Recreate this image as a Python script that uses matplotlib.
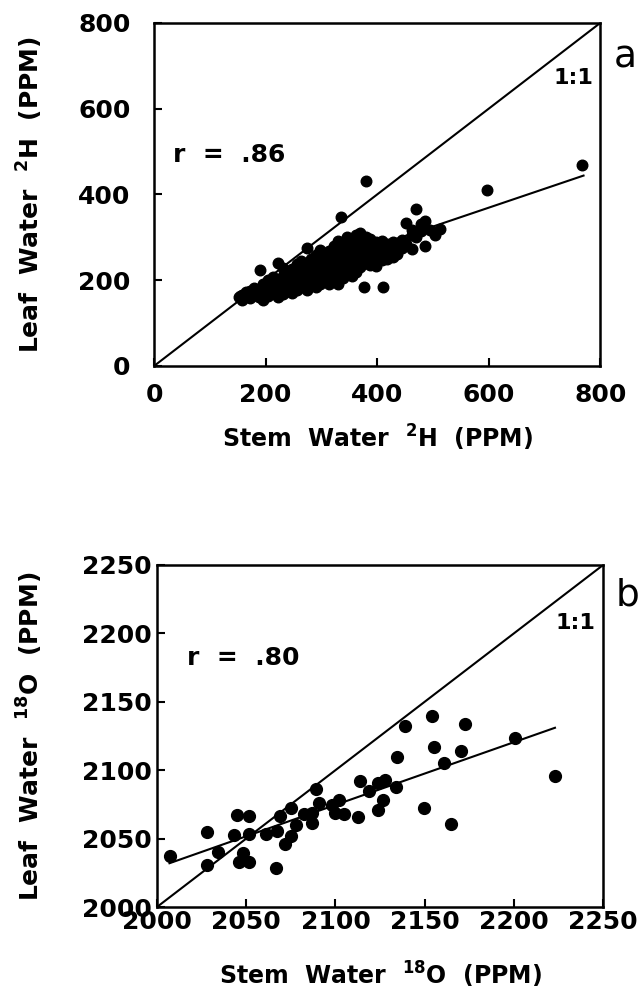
import numpy as np
import matplotlib.pyplot as plt

# panel a: deuterium (PPM), stem vs leaf water
stem_h = [152, 158, 158, 165, 165, 172, 172, 180, 180, 188, 188, 190,
          196, 196, 196, 205, 205, 205, 214, 214, 214,
          223, 223, 223, 223, 232, 232, 232, 232, 240, 240, 240,
          248, 248, 248, 248, 256, 256, 256, 256, 264, 264, 264, 264,
          274, 274, 274, 274, 274, 282, 282, 282, 282,
          290, 290, 290, 290, 290, 298, 298, 298, 298, 298,
          306, 306, 306, 306, 314, 314, 314, 314, 314,
          322, 322, 322, 322, 322, 330, 330, 330, 330, 330, 330, 336,
          338, 338, 338, 338, 338, 346, 346, 346, 346, 346,
          354, 354, 354, 354, 354, 362, 362, 362, 362, 362,
          370, 370, 370, 370, 370, 376, 380, 380, 380, 380, 380,
          388, 388, 388, 388, 398, 398, 398, 398, 408, 408, 408, 411,
          418, 418, 418, 428, 428, 428, 436, 436, 444, 444, 452, 452,
          462, 462, 462, 470, 470, 478, 478, 486, 486, 495, 504, 513,
          597, 768]
leaf_h = [160, 165, 155, 162, 172, 158, 175, 165, 182, 160, 178, 224,
          155, 170, 190, 162, 180, 200, 170, 190, 208,
          160, 180, 200, 239, 168, 188, 210, 228, 175, 195, 218,
          170, 185, 205, 225, 178, 198, 215, 238, 185, 205, 225, 245,
          178, 195, 215, 235, 274, 190, 210, 228, 250,
          185, 200, 220, 240, 258, 192, 212, 232, 252, 270,
          198, 218, 238, 260, 190, 210, 228, 248, 268,
          200, 220, 240, 262, 280, 192, 212, 232, 252, 275, 292, 347,
          205, 225, 245, 265, 285, 215, 235, 255, 275, 300,
          210, 228, 248, 268, 290, 220, 240, 260, 282, 305,
          230, 250, 270, 292, 310, 185, 240, 260, 280, 300, 432,
          235, 255, 275, 295, 232, 250, 270, 290, 248, 265, 292, 183,
          250, 268, 285, 255, 272, 290, 262, 280, 275, 294, 285, 333,
          272, 305, 318, 300, 367, 315, 330, 280, 337, 318, 305, 319,
          410, 469]
fit_h_x = [150, 770]
fit_h_y = [171, 444]

# panel b: oxygen-18 (PPM)
stem_o = [2007.5, 2028, 2028, 2034, 2044.7, 2051.6, 2043, 2051.6, 2048,
          2046, 2051.6, 2061, 2066.6, 2069, 2067.5, 2072, 2075, 2075,
          2077.7, 2082.4, 2087, 2087, 2089.3, 2090.8, 2098, 2102, 2100,
          2104.8, 2112.6, 2113.7, 2118.8, 2123.8, 2128, 2126.6, 2123.8,
          2134.2, 2134.6, 2139, 2149.5, 2154, 2155.5, 2160.7, 2164.8,
          2170.6, 2172.8, 2200.8, 2222.8]
leaf_o = [2037.3, 2054.7, 2030.5, 2040, 2067, 2066.4, 2052.3, 2053, 2039.7,
          2033, 2033, 2053, 2028.8, 2066.4, 2055.5, 2045.8, 2051.8, 2072.4,
          2059.6, 2068.3, 2061.6, 2068.8, 2086.3, 2076, 2074.9, 2078.5, 2068.8,
          2068.3, 2066, 2091.8, 2084.5, 2090.6, 2092.5, 2078, 2070.7,
          2087.5, 2109.5, 2132.5, 2072.4, 2139.5, 2117.2, 2105.2, 2061,
          2114, 2133.7, 2123.8, 2095.4]
fit_o_x = [2007, 2223]
fit_o_y = [2032, 2131]

plt.rcParams['font.family'] = 'DejaVu Sans'
fig = plt.figure(figsize=(6.42, 10.01), dpi=100)
ax1 = fig.add_axes([0.240, 0.6344, 0.695, 0.3427])
ax2 = fig.add_axes([0.2445, 0.0939, 0.695, 0.3417])


def style(ax, lo, hi, ticks, xpad, ypad):
    ax.set_xlim(lo, hi)
    ax.set_ylim(lo, hi)
    ax.set_xticks(ticks)
    ax.set_yticks(ticks)
    for s in ax.spines.values():
        s.set_linewidth(1.8)
    ax.tick_params(direction='in', length=6, width=1.5, labelsize=18,
                   top=False, right=False)
    ax.tick_params(axis='x', pad=xpad)
    ax.tick_params(axis='y', pad=ypad)
    for lab in ax.get_xticklabels() + ax.get_yticklabels():
        lab.set_fontweight('bold')
    ax.plot([lo, hi], [lo, hi], color='black', lw=1.5, zorder=2)


style(ax1, 0, 800, [0, 200, 400, 600, 800], 12, 17)
ax1.plot(fit_h_x, fit_h_y, color='black', lw=1.5, zorder=2)
ax1.plot(stem_h, leaf_h, 'o', color='black', ms=7.6, zorder=3)
ax1.text(0.043, 0.615, 'r  =  .86', transform=ax1.transAxes, fontsize=18,
         fontweight='bold', va='center', ha='left')
ax1.text(0.984, 0.84, '1:1', transform=ax1.transAxes, fontsize=16,
         fontweight='bold', va='center', ha='right')
ax1.set_xlabel('Stem  Water  $\\mathbf{^{2}}$H  (PPM)', fontsize=17,
               fontweight='bold', labelpad=12)
ax1.set_ylabel('Leaf  Water  $\\mathbf{^{2}}$H  (PPM)', fontsize=18,
               fontweight='bold')
ax1.yaxis.set_label_coords(-0.244, 0.5)
fig.text(614 / 642, 1 - 58 / 1001, 'a', fontsize=27, ha='left', va='center')

style(ax2, 2000, 2250, [2000, 2050, 2100, 2150, 2200, 2250], 2, 4)
ax2.plot(fit_o_x, fit_o_y, color='black', lw=1.5, zorder=2)
ax2.plot(stem_o, leaf_o, 'o', color='black', ms=8.5, zorder=3)
ax2.text(0.067, 0.728, 'r  =  .80', transform=ax2.transAxes, fontsize=18,
         fontweight='bold', va='center', ha='left')
ax2.text(0.982, 0.83, '1:1', transform=ax2.transAxes, fontsize=16,
         fontweight='bold', va='center', ha='right')
ax2.set_xlabel('Stem  Water  $\\mathbf{^{18}}$O  (PPM)', fontsize=17,
               fontweight='bold', labelpad=19)
ax2.set_ylabel('Leaf  Water  $\\mathbf{^{18}}$O  (PPM)', fontsize=18,
               fontweight='bold')
ax2.yaxis.set_label_coords(-0.251, 0.5)
fig.text(616 / 642, 1 - 596 / 1001, 'b', fontsize=27, ha='left', va='center')

fig.savefig('out.png', dpi=100)
